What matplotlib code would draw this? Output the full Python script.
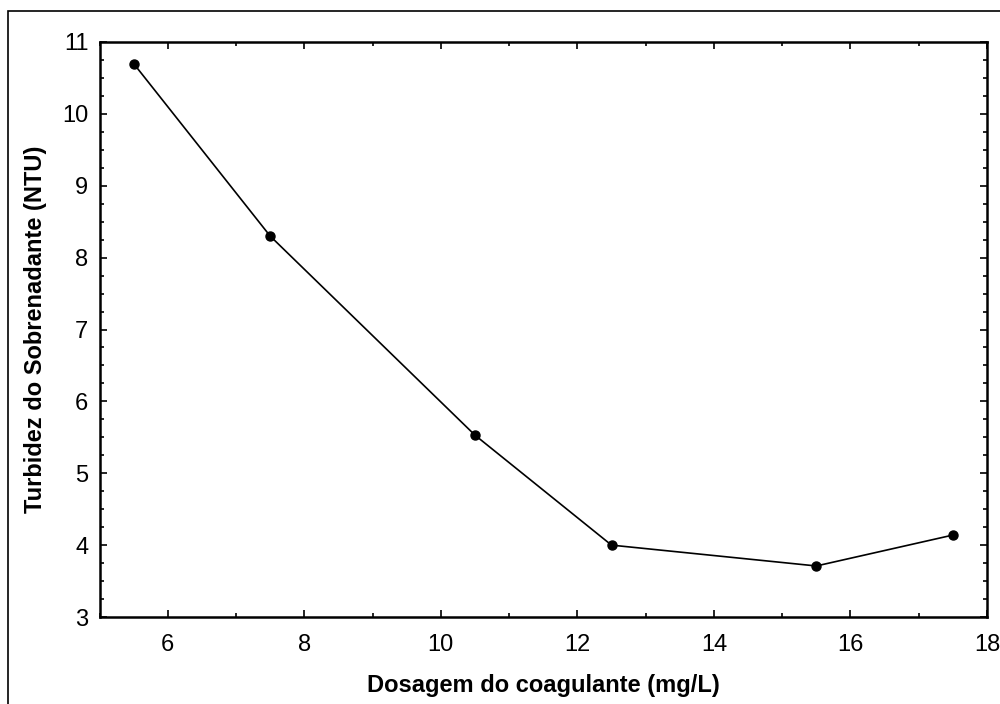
import matplotlib.pyplot as plt
from matplotlib.patches import Rectangle
from matplotlib.ticker import MultipleLocator

dosagem = [5.5, 7.5, 10.5, 12.5, 15.5, 17.5]
turbidez = [10.7, 8.3, 5.53, 4.0, 3.71, 4.14]

plt.rcParams['font.family'] = ['Liberation Sans', 'DejaVu Sans']

fig = plt.figure(figsize=(10, 7.04), dpi=100)
ax = fig.add_axes([0.0995, 1 - 617 / 704, (987 - 99.5) / 1000, (617 - 42) / 704])

ax.plot(dosagem, turbidez, color='black', linewidth=1.2, marker='o', markersize=6.5)

ax.set_xlim(5, 18)
ax.set_ylim(3, 11)
ax.xaxis.set_major_locator(MultipleLocator(2))
ax.xaxis.set_minor_locator(MultipleLocator(1))
ax.yaxis.set_major_locator(MultipleLocator(1))
ax.yaxis.set_minor_locator(MultipleLocator(0.25))
ax.tick_params(which='both', direction='in', top=True, right=True, width=1.2)
ax.tick_params(which='major', length=5, labelsize=17, pad=8)
ax.tick_params(axis='x', which='major', pad=12)
ax.tick_params(which='minor', length=3)
for s in ax.spines.values():
    s.set_linewidth(1.8)

ax.set_xlabel('Dosagem do coagulante (mg/L)', fontsize=17, fontweight='bold', labelpad=13)
ax.set_ylabel('Turbidez do Sobrenadante (NTU)', fontsize=17, fontweight='bold', labelpad=11)

# outer frame
fig.patches.append(Rectangle((8 / 1000, -0.1), 1.2, 1 - 11 / 704 + 0.1,
                             transform=fig.transFigure, fill=False,
                             edgecolor='black', linewidth=1.2))

fig.savefig('out.png', dpi=100)
